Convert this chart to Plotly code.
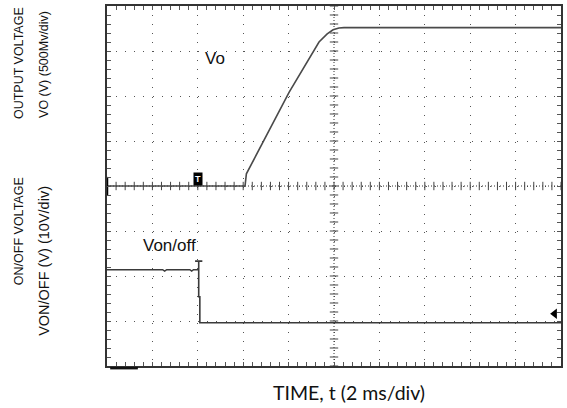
import numpy as np
import plotly.graph_objects as go

# ---- data ----
# time axis: 2 ms/div, 10 divisions; values in ms from the left edge
vo_time_ms = [0, 6.08, 6.14, 8.02, 9.34, 9.70, 9.96, 10.22, 10.44, 20]
vo_volts = [0, 0, 0.135, 1.04, 1.60, 1.69, 1.735, 1.755, 1.76, 1.76]

von_time_ms = [0, 2.45, 2.54, 2.63, 3.65, 3.73, 3.81, 3.98, 4.04, 4.04,
               3.88, 4.20, 4.04, 4.04, 4.09, 4.09, 20]
von_volts = [11.8, 11.8, 11.5, 11.8, 11.8, 11.5, 11.8, 11.8, 11.8, 13.7,
             13.7, 13.7, 13.7, 5.8, 5.8, 0, 0]

trigger_ms = 4.04
von_trig_level_v = 2.0

# scope scale settings
ms_per_div = 2.0
vo_per_div = 0.5      # 500 mV/div
vo_ground_div = 4.0
von_per_div = 10.0    # 10 V/div
von_ground_div = 0.96
n_xdiv, n_ydiv = 10, 8

labels = {
    "x": "TIME, t (2 ms/div)",
    "y1a": "OUTPUT VOLTAGE",
    "y1b": "VO (V) (500Mv/div)",
    "y2a": "ON/OFF VOLTAGE",
    "y2b": "VON/OFF (V) (10V/div)",
    "vo": "Vo",
    "von": "Von/off",
}

vo_x = np.array(vo_time_ms) / ms_per_div
vo_y = vo_ground_div + np.array(vo_volts) / vo_per_div
von_x = np.array(von_time_ms) / ms_per_div
von_y = von_ground_div + np.array(von_volts) / von_per_div

fig = go.Figure()

# centre cross lines with fine dots and ticks
fig.add_trace(go.Scatter(x=[0, n_xdiv], y=[n_ydiv / 2] * 2, mode="lines",
                         line=dict(color="#333", width=1, dash="1px,2px"),
                         hoverinfo="skip", showlegend=False))
fig.add_trace(go.Scatter(x=[n_xdiv / 2] * 2, y=[0, n_ydiv], mode="lines",
                         line=dict(color="#333", width=1, dash="1px,2px"),
                         hoverinfo="skip", showlegend=False))
tx = np.arange(0, n_xdiv + 0.001, 0.2)
ty = np.arange(0, n_ydiv + 0.001, 0.2)
fig.add_trace(go.Scatter(x=tx, y=np.full_like(tx, n_ydiv / 2), mode="markers",
                         marker=dict(symbol="line-ns-open", size=6, color="#444",
                                     line=dict(color="#444", width=1)),
                         hoverinfo="skip", showlegend=False))
fig.add_trace(go.Scatter(x=np.full_like(ty, n_xdiv / 2), y=ty, mode="markers",
                         marker=dict(symbol="line-ew-open", size=6, color="#444",
                                     line=dict(color="#444", width=1)),
                         hoverinfo="skip", showlegend=False))

# traces
fig.add_trace(go.Scatter(x=vo_x, y=vo_y, mode="lines",
                         line=dict(color="#4a4a4a", width=1.6),
                         showlegend=False))
fig.add_trace(go.Scatter(x=von_x, y=von_y, mode="lines",
                         line=dict(color="#3a3a3a", width=1.6),
                         showlegend=False))

# channel ground marker (left) and trigger level arrow (right)
fig.add_trace(go.Scatter(x=[0], y=[vo_ground_div], mode="markers",
                         marker=dict(symbol="line-ns-open", size=13, color="#000",
                                     line=dict(color="#000", width=2.5)),
                         cliponaxis=False, hoverinfo="skip", showlegend=False))
fig.add_trace(go.Scatter(x=[n_xdiv - 0.14], y=[von_ground_div + von_trig_level_v / von_per_div],
                         mode="markers",
                         marker=dict(symbol="triangle-left", size=9, color="#000"),
                         cliponaxis=False, hoverinfo="skip", showlegend=False))

axis_common = dict(showline=True, linecolor="#333", linewidth=1.5, mirror="ticks",
                   ticks="inside", ticklen=4, tickcolor="#555", tickwidth=1,
                   showticklabels=False, zeroline=False, showgrid=True,
                   gridcolor="#555", gridwidth=1, fixedrange=True)

fig.update_xaxes(range=[0, n_xdiv], dtick=1, tick0=0, griddash="1px,8.05px",
                 minor=dict(dtick=0.2, ticks="inside", ticklen=4, tickcolor="#555",
                            showgrid=False),
                 **axis_common)
fig.update_yaxes(range=[0, n_ydiv], dtick=1, tick0=0, griddash="1px,8.12px",
                 minor=dict(dtick=0.2, ticks="inside", ticklen=4, tickcolor="#555",
                            showgrid=False),
                 **axis_common)

ann = []
# in-plot trace labels
ann.append(dict(x=2.37, y=6.83, xref="x", yref="y", text=labels["vo"], showarrow=False,
                font=dict(family="Liberation Sans, Arial", size=17, color="#111")))
ann.append(dict(x=1.38, y=2.67, xref="x", yref="y", text=labels["von"], showarrow=False,
                font=dict(family="Liberation Sans, Arial", size=17, color="#111")))
# trigger marker box
ann.append(dict(x=trigger_ms / ms_per_div - 0.02, y=vo_ground_div, xref="x", yref="y",
                yanchor="bottom", text="<b>T</b>", showarrow=False, bgcolor="#000",
                borderpad=1, font=dict(family="Liberation Sans", size=9, color="#fff")))

W, H = 567, 408
L, R, T, B = 107, 4, 4, 42
pw, ph = W - L - R, H - T - B


def px(xp):
    return (xp - L) / pw


def py(yp):
    return (H - B - yp) / ph


yfont = dict(family="Liberation Sans, Arial", size=12.5, color="#111")
ann.append(dict(x=px(18), y=py(61), xref="paper", yref="paper", text=labels["y1a"],
                textangle=-90, showarrow=False, xanchor="center", yanchor="middle", font=yfont))
ann.append(dict(x=px(43), y=py(63), xref="paper", yref="paper", text=labels["y1b"],
                textangle=-90, showarrow=False, xanchor="center", yanchor="middle", font=yfont))
ann.append(dict(x=px(18), y=py(230), xref="paper", yref="paper", text=labels["y2a"],
                textangle=-90, showarrow=False, xanchor="center", yanchor="middle", font=yfont))
ann.append(dict(x=px(43), y=py(260), xref="paper", yref="paper", text=labels["y2b"],
                textangle=-90, showarrow=False, xanchor="center", yanchor="middle",
                font=dict(family="Liberation Sans, Arial", size=14.5, color="#111")))
ann.append(dict(x=px(350), y=py(393), xref="paper", yref="paper", text=labels["x"],
                showarrow=False, xanchor="center", yanchor="middle",
                font=dict(family="Lato, Open Sans", size=19.5, color="#111")))

fig.update_layout(
    width=W, height=H, margin=dict(l=L, r=R, t=T, b=B),
    paper_bgcolor="white", plot_bgcolor="white",
    annotations=ann, showlegend=False,
    shapes=[dict(type="line", xref="x", yref="paper", x0=0.07, x1=0.68, y0=-0.006, y1=-0.006,
                 line=dict(color="#111", width=2.5))],
)

fig.write_html(
    "out.html", config={"displayModeBar": False},
    post_script=("document.body.style.margin='0';"
                 "document.body.style.overflow='hidden';"
                 "document.documentElement.style.overflow='hidden';"),
)
